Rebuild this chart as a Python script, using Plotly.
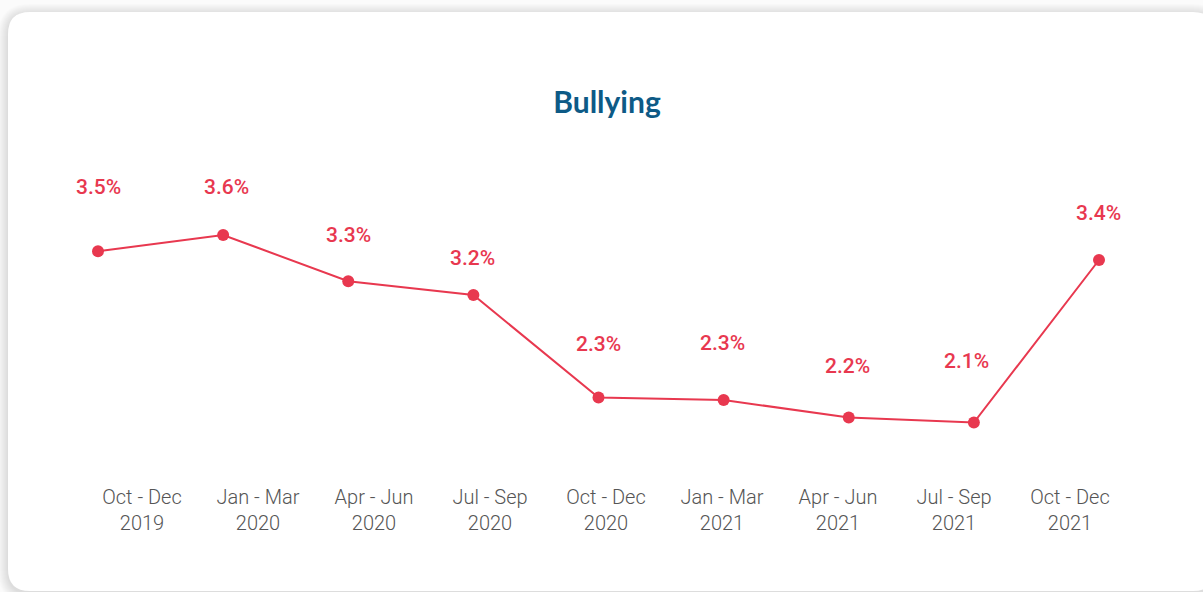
import plotly.graph_objects as go

# ---------------- data ----------------
periods = ["Oct - Dec", "Jan - Mar", "Apr - Jun", "Jul - Sep", "Oct - Dec",
           "Jan - Mar", "Apr - Jun", "Jul - Sep", "Oct - Dec"]
years = ["2019", "2020", "2020", "2020", "2020", "2021", "2021", "2021", "2021"]
bullying_pct = [3.51, 3.64, 3.27, 3.16, 2.34, 2.32, 2.18, 2.14, 3.44]
title_text = "Bullying"

# ---------------- style ----------------
W, H = 1203, 592
RED = "#E8384F"
TITLE_BLUE = "#0D5A86"
TICK_GREY = "#555555"
label_dy = [64, 48, 46, 37, 54, 57, 52, 62, 47]   # label lift above point (px)
label_dx = [0, 3, 0, -1, 0, -1, -1, -7, -1]

n = len(bullying_pct)
idx = list(range(n))
tick_text = [f"{p}<br>{y}" for p, y in zip(periods, years)]

def px_x(p):
    return p / W

def px_y(p):
    return 1 - p / H

def rounded_rect(x0, y0, x1, y1, r):
    X = lambda v: f"{px_x(v):.6f}"
    Y = lambda v: f"{px_y(v):.6f}"
    return (f"M {X(x0 + r)} {Y(y0)} L {X(x1 - r)} {Y(y0)} "
            f"Q {X(x1)} {Y(y0)} {X(x1)} {Y(y0 + r)} "
            f"L {X(x1)} {Y(y1 - r)} Q {X(x1)} {Y(y1)} {X(x1 - r)} {Y(y1)} "
            f"L {X(x0 + r)} {Y(y1)} Q {X(x0)} {Y(y1)} {X(x0)} {Y(y1 - r)} "
            f"L {X(x0)} {Y(y0 + r)} Q {X(x0)} {Y(y0)} {X(x0 + r)} {Y(y0)} Z")

shapes = []
for k in range(10, 0, -1):
    shapes.append(dict(type="path", xref="paper", yref="paper", layer="below",
                       path=rounded_rect(8 - k, 12 - k + 2, 1215 + k, 591 + k + 2, 22 + k),
                       fillcolor="rgba(0,0,0,0.012)", line=dict(width=0)))
shapes.append(dict(type="path", xref="paper", yref="paper", layer="below",
                   path=rounded_rect(8, 12, 1215, 591, 22),
                   fillcolor="white", line=dict(width=0)))

fig = go.Figure()
fig.add_trace(go.Scatter(
    x=idx, y=bullying_pct, mode="lines+markers",
    line=dict(color=RED, width=2),
    marker=dict(color=RED, size=12),
    hoverinfo="skip", showlegend=False,
))

annotations = []
for i, v in enumerate(bullying_pct):
    annotations.append(dict(
        x=i, y=v, xref="x", yref="y", text=f"{v:.1f}%", showarrow=False,
        yshift=label_dy[i], xshift=label_dx[i], xanchor="center", yanchor="middle",
        font=dict(family="Roboto", size=21, color=RED, weight=500),
    ))

x_lo = -98 / 125.125
x_hi = (W - 98) / 125.125
t_lo = -142 / 116
t_hi = (W - 142) / 116
y_hi = 5.52
y_lo = 5.52 - H * 0.008

fig.update_layout(
    width=W, height=H,
    margin=dict(l=0, r=0, t=0, b=0),
    paper_bgcolor="#FBFBFB",
    plot_bgcolor="rgba(0,0,0,0)",
    shapes=shapes,
    annotations=annotations,
    title=dict(text=f"<b>{title_text}</b>", x=607 / W, y=px_y(102),
               xanchor="center", yanchor="middle",
               font=dict(family="Lato", size=30, color=TITLE_BLUE, weight=900)),
    xaxis=dict(range=[x_lo, x_hi], visible=False, fixedrange=True),
    xaxis2=dict(range=[t_lo, t_hi], anchor="free", position=px_y(483),
                overlaying="x", side="bottom",
                tickmode="array", tickvals=idx, ticktext=tick_text,
                showgrid=False, zeroline=False, showline=False, ticks="",
                tickfont=dict(family="Roboto", size=20, color=TICK_GREY, weight=300),
                fixedrange=True),
    yaxis=dict(range=[y_lo, y_hi], visible=False, fixedrange=True),
)
fig.add_trace(go.Scatter(x=[0], y=[y_lo - 1], xaxis="x2", mode="markers",
                         marker=dict(opacity=0), hoverinfo="skip", showlegend=False))

fig.write_html("out.html", config={"displayModeBar": False})
